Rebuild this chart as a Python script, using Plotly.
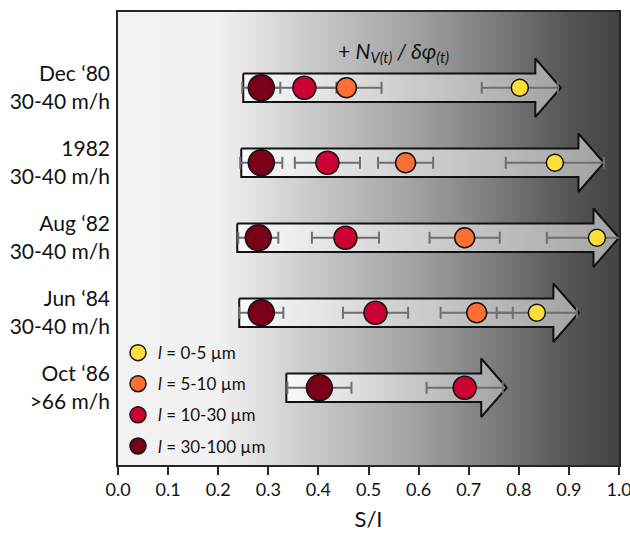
import plotly.graph_objects as go

# ---------------- data ----------------
row_labels = ["Dec \u201880<br>30-40 m/h", "1982<br>30-40 m/h", "Aug \u201882<br>30-40 m/h",
              "Jun \u201884<br>30-40 m/h", "Oct \u201886<br>>66 m/h"]
row_pos = [5, 4, 3, 2, 1]

# S/I by particle length class (None = not measured)
si_0_5 = [0.802, 0.872, 0.956, 0.836, None]
err_0_5 = [0.076, 0.098, 0.100, 0.080, None]
si_5_10 = [0.456, 0.574, 0.692, 0.716, None]
err_5_10 = [0.070, 0.055, 0.070, 0.072, None]
si_10_30 = [0.372, 0.418, 0.454, 0.514, 0.692]
err_10_30 = [0.064, 0.065, 0.067, 0.065, 0.076]
si_30_100 = [0.286, 0.286, 0.280, 0.286, 0.402]
err_30_100 = [0.038, 0.042, 0.040, 0.044, 0.064]

# arrow extent for each survey
arrow_start = [0.250, 0.246, 0.238, 0.242, 0.336]
arrow_tip = [0.884, 0.970, 1.000, 0.920, 0.776]

class_names = ["<i>l</i> = 0-5 \u00b5m", "<i>l</i> = 5-10 \u00b5m",
               "<i>l</i> = 10-30 \u00b5m", "<i>l</i> = 30-100 \u00b5m"]
class_colors = ["#FFDE3B", "#FF6F33", "#CC0033", "#7A0019"]
class_sizes = [17, 20, 23, 26]

x_ticks = [round(i * 0.1, 1) for i in range(11)]

# ---------------- styling constants ----------------
FONT = "Lato"
X_RANGE = [0, 1]
Y_RANGE = [-0.03, 6.01]
BODY_HALF = 0.19
HEAD_HALF = 0.39
HEAD_LEN = 0.051

fig = go.Figure()

# background gradient
fig.add_trace(go.Scatter(
    x=[X_RANGE[0], X_RANGE[1], X_RANGE[1], X_RANGE[0], X_RANGE[0]],
    y=[Y_RANGE[0], Y_RANGE[0], Y_RANGE[1], Y_RANGE[1], Y_RANGE[0]],
    mode="lines", line=dict(width=0), fill="toself",
    fillgradient=dict(type="horizontal", colorscale=[
        [0.0, "#f2f2f2"], [0.2, "#f1f1f1"], [0.3, "#dcdcdc"], [0.45, "#bdbdbd"],
        [0.6, "#a0a0a0"], [0.75, "#7c7c7c"], [0.9, "#555555"], [1.0, "#434343"]]),
    showlegend=False, hoverinfo="skip"))

# arrows
for xs, xt, yc in zip(arrow_start, arrow_tip, row_pos):
    xb = xt - HEAD_LEN
    ax = [xs, xb, xb, xt, xb, xb, xs, xs]
    ay = [yc + BODY_HALF, yc + BODY_HALF, yc + HEAD_HALF, yc, yc - HEAD_HALF,
          yc - BODY_HALF, yc - BODY_HALF, yc + BODY_HALF]
    fig.add_trace(go.Scatter(
        x=ax, y=ay, mode="lines", fill="toself",
        line=dict(color="#111111", width=2),
        fillgradient=dict(type="horizontal",
                          colorscale=[[0, "#fafafa"], [1, "#a3a3a3"]]),
        showlegend=False, hoverinfo="skip"))

series = [(si_0_5, err_0_5), (si_5_10, err_5_10), (si_10_30, err_10_30), (si_30_100, err_30_100)]

# error bars first (beneath all markers)
for (vals, errs) in series:
    xs = [v for v in vals if v is not None]
    es = [e for v, e in zip(vals, errs) if v is not None]
    ys = [p for v, p in zip(vals, row_pos) if v is not None]
    fig.add_trace(go.Scatter(
        x=xs, y=ys, mode="markers", marker=dict(size=1, opacity=0),
        error_x=dict(type="data", array=es, color="#6f6f6f", thickness=2, width=6),
        showlegend=False, hoverinfo="skip"))

# markers
for i, (vals, errs) in enumerate(series):
    xs = [v for v in vals if v is not None]
    ys = [p for v, p in zip(vals, row_pos) if v is not None]
    fig.add_trace(go.Scatter(
        x=xs, y=ys, mode="markers", name=class_names[i], legendgroup=str(i),
        marker=dict(size=class_sizes[i], color=class_colors[i],
                    line=dict(color="#111111", width=1.5)),
        hoverinfo="skip"))

fig.add_annotation(
    x=0.55, y=5.48, xref="x", yref="y", showarrow=False,
    text="+ <i>N</i><sub><i>V(t)</i></sub><i> / \u03b4\u03c6</i><sub><i>(t)</i></sub>",
    font=dict(family=FONT, size=21, color="#111111"))

axis_line = dict(showline=True, linecolor="#262626", linewidth=1.5, mirror=True,
                 showgrid=False, zeroline=False, automargin=False)

fig.update_layout(
    width=630, height=541,
    margin=dict(l=118, r=11, t=12, b=76),
    paper_bgcolor="white", plot_bgcolor="#f2f2f2",
    font=dict(family=FONT, color="#111111"),
    hovermode=False,
    xaxis=dict(range=X_RANGE, tickvals=x_ticks, ticktext=[f"{t:.1f}" for t in x_ticks],
               ticks="outside", ticklen=8, tickcolor="#262626", tickwidth=1.5,
               ticklabeloverflow="allow",
               tickfont=dict(size=18), title=dict(text="S/I", font=dict(size=22), standoff=12),
               **axis_line),
    yaxis=dict(range=Y_RANGE, tickvals=row_pos, ticktext=row_labels, ticks="",
               tickfont=dict(size=21), ticklabelstandoff=2, **axis_line),
    legend=dict(x=0.0, y=0.002, xanchor="left", yanchor="bottom",
                bgcolor="rgba(0,0,0,0)", font=dict(size=17), tracegroupgap=6,
                itemsizing="trace"),
)

fig.write_html("out.html", config={"displayModeBar": False},
               post_script="document.body.style.margin='0';document.body.style.overflow='hidden';")
